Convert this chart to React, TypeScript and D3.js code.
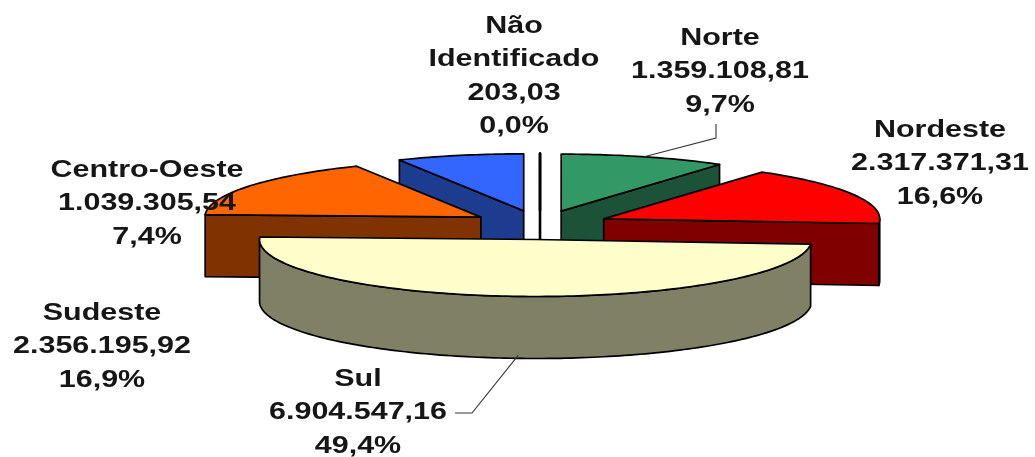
import React from "react";
import * as d3 from "d3";

// ---- data ----
const regions = ["Não Identificado", "Norte", "Nordeste", "Sul", "Sudeste", "Centro-Oeste"];
const values = [203.03, 1359108.81, 2317371.31, 6904547.16, 2356195.92, 1039305.54];
const valueLabels = ["203,03", "1.359.108,81", "2.317.371,31", "6.904.547,16", "2.356.195,92", "1.039.305,54"];
const percentLabels = ["0,0%", "9,7%", "16,6%", "49,4%", "16,9%", "7,4%"];

// ---- styling / layout ----
const topColors = ["#ffffff", "#339966", "#ff0000", "#ffffcc", "#ff6600", "#3366ff"];
const sideColors = ["#ffffff", "#1c5239", "#800000", "#808066", "#803300", "#1f3d8f"];
const paintOrder = [0, 5, 1, 4, 2, 3];
const labelLines: string[][] = [
  ["Não", "Identificado"],
  ["Norte"],
  ["Nordeste"],
  ["Sul"],
  ["Sudeste"],
  ["Centro-Oeste"],
];
const labelX = [514, 720, 940, 358, 102, 147];
const labelFirstBaseline = [33, 45, 137, 386, 320, 177];
const LINE_H = 33.5;
const FONT = 24;
const STRETCH = 1.27;

const W = 1035, H = 457;
const CX = 540, CY = 225, RX = 276, RY = 57, DEPTH = 62, EXPLODE = 0.255;

const sx = d3.scaleLinear().domain([-1, 1]).range([CX - RX, CX + RX]);
const sy = d3.scaleLinear().domain([-1, 1]).range([CY - RY, CY + RY]);
const line = d3.line<[number, number]>().curve(d3.curveLinear);

const pie = d3.pie<number>().sort(null).startAngle(0).endAngle(2 * Math.PI);
const arcs = pie(values);

function App() {
  const pt = (i: number, a: number, r: number, z = 0): [number, number] => {
    const mid = (arcs[i].startAngle + arcs[i].endAngle) / 2;
    const ux = EXPLODE * Math.sin(mid) + r * Math.sin(a);
    const uy = -EXPLODE * Math.cos(mid) - r * Math.cos(a);
    return [sx(ux), sy(uy) + z];
  };
  const samples = (a0: number, a1: number) => {
    const n = Math.max(2, Math.ceil(Math.abs(a1 - a0) / 0.02));
    return d3.range(n + 1).map((k) => a0 + ((a1 - a0) * k) / n);
  };

  const slice = (i: number) => {
    const { startAngle: a0, endAngle: a1 } = arcs[i];
    const faces: React.ReactNode[] = [];
    const stroke = "#000";
    const sw = i === 0 ? 2.6 : 1.7;
    const radial = (a: number, key: string) => {
      const p: [number, number][] = [pt(i, a, 0), pt(i, a, 1), pt(i, a, 1, DEPTH), pt(i, a, 0, DEPTH)];
      faces.push(<path key={key} d={line(p)! + "Z"} fill={sideColors[i]} stroke={stroke} strokeWidth={sw} strokeLinejoin="round" />);
    };
    if (Math.sin(a0) < 0) radial(a0, "s");
    if (Math.sin(a1) > 0) radial(a1, "e");
    const w0 = Math.max(a0, Math.PI / 2), w1 = Math.min(a1, (3 * Math.PI) / 2);
    if (w1 > w0) {
      const as = samples(w0, w1);
      const p: [number, number][] = [...as.map((a) => pt(i, a, 1)), ...as.slice().reverse().map((a) => pt(i, a, 1, DEPTH))];
      faces.push(<path key="w" d={line(p)! + "Z"} fill={sideColors[i]} stroke={stroke} strokeWidth={sw} strokeLinejoin="round" />);
    }
    const top: [number, number][] = [pt(i, a0, 0), ...samples(a0, a1).map((a) => pt(i, a, 1))];
    faces.push(<path key="t" d={line(top)! + "Z"} fill={topColors[i]} stroke={stroke} strokeWidth={sw} strokeLinejoin="round" />);
    return <g key={regions[i]}>{faces}</g>;
  };

  const midA = (i: number) => (arcs[i].startAngle + arcs[i].endAngle) / 2;
  const norteLeader: [number, number][] = [pt(1, midA(1), 1), [716, 138], [716, 124]];
  const sulLeader: [number, number][] = [pt(3, midA(3), 1, DEPTH - 3), [472, 413], [455, 413]];

  return (
    <svg width={W} height={H} viewBox={`0 0 ${W} ${H}`} style={{ position: "absolute", left: 0, top: 0, display: "block", background: "#fff" }}>
      <defs>
        <filter id="soft" x="0" y="0" width="100%" height="100%" filterUnits="objectBoundingBox">
          <feGaussianBlur stdDeviation="0.45" />
        </filter>
      </defs>
      <g filter="url(#soft)">
        <rect width={W} height={H} fill="#fff" />
        {paintOrder.map(slice)}
        <path d={line(norteLeader)!} fill="none" stroke="#333" strokeWidth={1.1} />
        <path d={line(sulLeader)!} fill="none" stroke="#333" strokeWidth={1.1} />
        {regions.map((r, i) => {
          const lines = [...labelLines[i], valueLabels[i], percentLabels[i]];
          return (
            <text key={r} fontFamily="Liberation Sans" fontWeight="bold" fontSize={FONT} fill="#161616" textAnchor="middle"
              transform={`translate(${labelX[i]},${labelFirstBaseline[i]}) scale(${STRETCH},1)`}>
              {lines.map((t, k) => (
                <tspan key={k} x={0} y={k * LINE_H}>{t}</tspan>
              ))}
            </text>
          );
        })}
      </g>
    </svg>
  );
}

export default App;
